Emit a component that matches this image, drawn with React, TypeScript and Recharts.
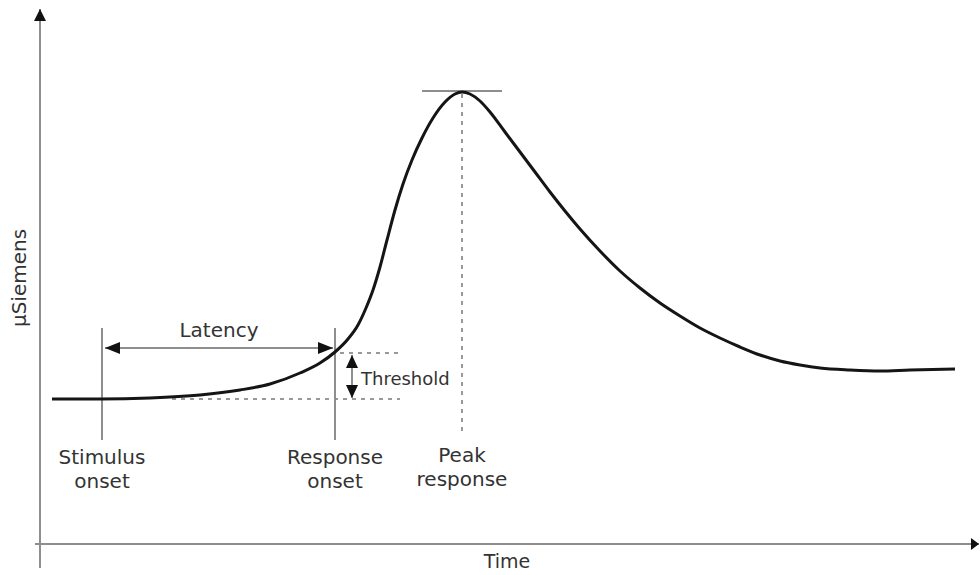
import { Line, LineChart, ReferenceLine, XAxis, YAxis } from "recharts";

// time (arbitrary units) and skin conductance (µS)
const time = [
  1.2, 6.0, 11.0, 16.0, 20.0, 23.0, 26.0, 28.0, 29.5, 30.8, 31.8, 32.6, 33.3,
  34.0, 34.7, 35.5, 36.3, 37.2, 38.2, 39.3, 40.5, 41.5, 42.2, 43.0, 44.0, 45.0,
  46.5, 48.0, 49.5, 51.0, 52.5, 54.0, 56.0, 58.0, 60.0, 62.0, 64.0, 66.0, 68.0,
  70.0, 72.0, 74.0, 76.0, 78.0, 81.0, 84.0, 87.0, 91.5,
];
const conductance = [
  1.45, 1.45, 1.46, 1.49, 1.54, 1.6, 1.71, 1.81, 1.92, 2.05, 2.19, 2.36, 2.54,
  2.77, 3.04, 3.34, 3.6, 3.84, 4.06, 4.26, 4.42, 4.5, 4.52, 4.5, 4.43, 4.32,
  4.12, 3.92, 3.72, 3.52, 3.33, 3.15, 2.93, 2.73, 2.56, 2.41, 2.28, 2.16, 2.06,
  1.97, 1.89, 1.83, 1.79, 1.76, 1.74, 1.73, 1.74, 1.75,
];

// events marked on the figure
const stimulusOnset = 6.2;
const responseOnset = 29.5;
const peakTime = 42.2;
const peakValue = 4.53;
const baseline = 1.45;
const threshold = 1.91;

const data = time.map((t, i) => ({ t, us: conductance[i] }));

const GRAY = "#8e8e8e";
const TEXT = "#333";
const FONT = "DejaVu Sans, sans-serif";

const head = (x: number, y: number, fx: number, fy: number, len: number, half: number) => {
  // triangle with tip at (x,y), coming from direction (fx,fy)
  const d = Math.hypot(x - fx, y - fy) || 1;
  const ux = (x - fx) / d;
  const uy = (y - fy) / d;
  const bx = x - ux * len;
  const by = y - uy * len;
  return `${x},${y} ${bx - uy * half},${by + ux * half} ${bx + uy * half},${by - ux * half}`;
};

const arrow =
  (opts: { start?: boolean; end?: boolean; len: number; half: number; stroke?: string; width?: number; fill?: string }) =>
  (p: any) => {
    const { x1, y1, x2, y2 } = p;
    return (
      <g>
        <line x1={x1} y1={y1} x2={x2} y2={y2} stroke={opts.stroke || GRAY} strokeWidth={opts.width || 2} />
        {opts.start && <polygon points={head(x1, y1, x2, y2, opts.len, opts.half)} fill={opts.fill || "#111"} />}
        {opts.end && <polygon points={head(x2, y2, x1, y1, opts.len, opts.half)} fill={opts.fill || "#111"} />}
      </g>
    );
  };

const textStyle = { fontFamily: FONT, fontSize: 20, fill: TEXT };

const marker = (line1: string, line2: string, dashed: boolean, gap: number) => (p: any) => {
  const { x1, y1, x2, y2 } = p;
  const bottom = Math.max(y1, y2);
  return (
    <g>
      <line
        x1={x1}
        y1={y1}
        x2={x2}
        y2={y2}
        stroke={dashed ? "#999" : GRAY}
        strokeWidth={2}
        strokeDasharray={dashed ? "4 5" : undefined}
      />
      <text x={x1} y={bottom + gap} textAnchor="middle" {...textStyle}>
        {line1}
      </text>
      <text x={x1} y={bottom + gap + 24} textAnchor="middle" {...textStyle}>
        {line2}
      </text>
    </g>
  );
};

export default function App() {
  return (
    <div style={{ position: "absolute", left: 0, top: 0, background: "#fff" }}>
      <LineChart width={980} height={575} data={data} margin={{ top: 0, right: 0, bottom: 31, left: 40 }}>
        <XAxis type="number" dataKey="t" domain={[0, 94]} hide />
        <YAxis type="number" domain={[0, 5.44]} hide />

        {/* axes */}
        <ReferenceLine
          ifOverflow="visible"
          segment={[{ x: 0, y: -0.24 }, { x: 0, y: 5.35 }]}
          shape={(p: any) => (
            <g>
              {arrow({ end: true, len: 12, half: 6 })(p)}
              <text
                x={26}
                y={278}
                transform="rotate(-90 26 278)"
                textAnchor="middle"
                {...textStyle}
              >
                µSiemens
              </text>
            </g>
          )}
        />
        <ReferenceLine
          ifOverflow="visible"
          segment={[{ x: -0.5, y: 0 }, { x: 93.9, y: 0 }]}
          shape={(p: any) => (
            <g>
              {arrow({ end: true, len: 8, half: 6 })(p)}
              <text x={(p.x1 + p.x2) / 2} y={p.y1 + 24} textAnchor="middle" {...textStyle} fontSize={19}>
                Time
              </text>
            </g>
          )}
        />

        {/* threshold dashed guides */}
        <ReferenceLine
          ifOverflow="visible"
          segment={[{ x: 30.0, y: threshold }, { x: 36.0, y: threshold }]}
          stroke="#999"
          strokeWidth={2}
          strokeDasharray="4 5"
        />
        <ReferenceLine
          ifOverflow="visible"
          segment={[{ x: 13.2, y: baseline }, { x: 36.0, y: baseline }]}
          stroke="#999"
          strokeWidth={2}
          strokeDasharray="4 5"
        />

        {/* event markers */}
        <ReferenceLine
          ifOverflow="visible"
          segment={[{ x: stimulusOnset, y: 2.16 }, { x: stimulusOnset, y: 1.04 }]}
          shape={marker("Stimulus", "onset", false, 24)}
        />
        <ReferenceLine
          ifOverflow="visible"
          segment={[{ x: responseOnset, y: 2.16 }, { x: responseOnset, y: 1.04 }]}
          shape={marker("Response", "onset", false, 24)}
        />
        <ReferenceLine
          ifOverflow="visible"
          segment={[{ x: peakTime, y: peakValue - 0.03 }, { x: peakTime, y: 1.09 }]}
          shape={marker("Peak", "response", true, 27)}
        />
        <ReferenceLine
          ifOverflow="visible"
          segment={[{ x: peakTime - 4, y: peakValue }, { x: peakTime + 4, y: peakValue }]}
          stroke={GRAY}
          strokeWidth={2}
        />

        {/* latency */}
        <ReferenceLine
          ifOverflow="visible"
          segment={[{ x: stimulusOnset + 0.3, y: 1.96 }, { x: responseOnset - 0.2, y: 1.96 }]}
          shape={(p: any) => (
            <g>
              {arrow({ start: true, end: true, len: 15, half: 6 })(p)}
              <text x={(p.x1 + p.x2) / 2} y={p.y1 - 11} textAnchor="middle" {...textStyle}>
                Latency
              </text>
            </g>
          )}
        />

        {/* threshold */}
        <ReferenceLine
          ifOverflow="visible"
          segment={[{ x: 31.2, y: threshold - 0.02 }, { x: 31.2, y: baseline + 0.01 }]}
          shape={(p: any) => (
            <g>
              {arrow({ start: true, end: true, len: 13, half: 6 })(p)}
              <text x={p.x1 + 9} y={(p.y1 + p.y2) / 2 + 8} {...textStyle} fontSize={18}>
                Threshold
              </text>
            </g>
          )}
        />

        <Line
          type="monotone"
          dataKey="us"
          stroke="#151515"
          strokeWidth={3}
          dot={false}
          isAnimationActive={false}
        />
      </LineChart>
    </div>
  );
}
